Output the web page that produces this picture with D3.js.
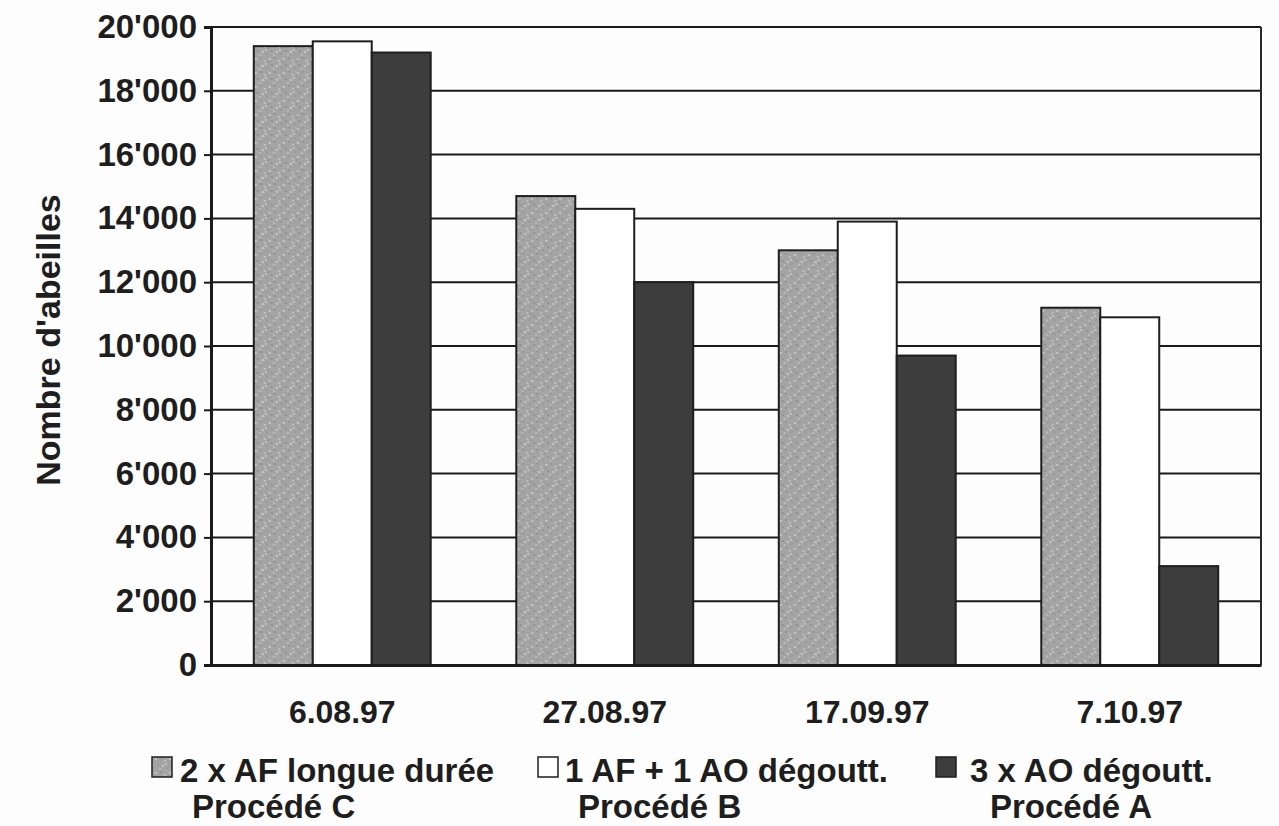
<!DOCTYPE html>
<html>
<head>
<meta charset="utf-8">
<script src="https://cdn.jsdelivr.net/npm/d3@7"></script>
<style>
  html, body { margin: 0; padding: 0; background: #fdfdfd; }
  svg { display: block; }
  text { font-family: "Liberation Sans", Arial, sans-serif; font-weight: bold; fill: #1e1e1e; }
</style>
</head>
<body>
<svg id="chart" width="1279" height="826"></svg>
<script>
// Sampling dates (x categories)
const categories = ["6.08.97", "27.08.97", "17.09.97", "7.10.97"];

// Bee counts per treatment
const procedeC = [19400, 14700, 13000, 11200]; // 2 x AF longue durée
const procedeB = [19550, 14300, 13900, 10900]; // 1 AF + 1 AO dégoutt.
const procedeA = [19200, 12000, 9700, 3100];   // 3 x AO dégoutt.

const seriesKeys = ["C", "B", "A"];
const seriesLabels = [
  ["2 x AF longue durée", "Procédé C"],
  ["1 AF + 1 AO dégoutt.", "Procédé B"],
  ["3 x AO dégoutt.", "Procédé A"]
];

const yTickValues = [0, 2000, 4000, 6000, 8000, 10000, 12000, 14000, 16000, 18000, 20000];
const yTitle = "Nombre d'abeilles";

const rows = categories.map((c, i) => ({ cat: c, C: procedeC[i], B: procedeB[i], A: procedeA[i] }));

const svg = d3.select("#chart");
const plot = { left: 211, right: 1261, top: 27, bottom: 665 };

const x0 = d3.scaleBand().domain(categories)
  .range([plot.left, plot.right]).paddingInner(0.326).paddingOuter(0.163);
const x1 = d3.scaleBand().domain(seriesKeys).range([0, x0.bandwidth()]);
const y = d3.scaleLinear().domain([0, 20000]).range([plot.bottom, plot.top]);

// Speckled grey fill for the first series
const defs = svg.append("defs");
const pat = defs.append("pattern").attr("id", "speckle")
  .attr("patternUnits", "userSpaceOnUse").attr("width", 14).attr("height", 14);
pat.append("rect").attr("width", 14).attr("height", 14).attr("fill", "#a4a4a4");
[[1,2,"#c4c4c4"],[6,1,"#959595"],[10,4,"#bdbdbd"],[3,8,"#929292"],[8,9,"#c8c8c8"],
 [12,11,"#999999"],[5,12,"#b8b8b8"],[0,5,"#9a9a9a"],[11,7,"#c0c0c0"]].forEach(([px, py, col]) => {
  pat.append("rect").attr("x", px).attr("y", py).attr("width", 2).attr("height", 2).attr("fill", col);
});

const fills = { C: "url(#speckle)", B: "#ffffff", A: "#3d3d3d" };

// Horizontal gridlines
svg.append("g").selectAll("line").data(yTickValues.filter(v => v > 0)).join("line")
  .attr("x1", plot.left).attr("x2", plot.right)
  .attr("y1", d => y(d)).attr("y2", d => y(d))
  .attr("stroke", "#1a1a1a").attr("stroke-width", 2);

// Right border
svg.append("line").attr("x1", plot.right).attr("x2", plot.right)
  .attr("y1", plot.top).attr("y2", plot.bottom)
  .attr("stroke", "#2a2a2a").attr("stroke-width", 2);

// Bars
svg.append("g").selectAll("g").data(rows).join("g")
  .attr("transform", d => `translate(${x0(d.cat)},0)`)
  .selectAll("rect").data(d => seriesKeys.map(k => ({ key: k, value: d[k] }))).join("rect")
  .attr("x", d => x1(d.key))
  .attr("y", d => y(d.value))
  .attr("width", x1.bandwidth())
  .attr("height", d => y(0) - y(d.value))
  .attr("fill", d => fills[d.key])
  .attr("stroke", "#1e1e1e").attr("stroke-width", 2);

// Y axis
const yAxis = svg.append("g").attr("transform", `translate(${plot.left},0)`)
  .call(d3.axisLeft(y).tickValues(yTickValues).tickSize(7).tickPadding(7)
    .tickFormat(d => d3.format(",")(d).replace(/,/g, "'")));
yAxis.select(".domain").attr("stroke", "#1a1a1a").attr("stroke-width", 3);
yAxis.selectAll(".tick line").attr("stroke", "#1a1a1a").attr("stroke-width", 2);
yAxis.selectAll(".tick text").attr("font-size", 33).attr("fill", "#1e1e1e")
  .attr("font-family", "Liberation Sans, Arial, sans-serif").attr("font-weight", "bold");

// X axis
const xAxis = svg.append("g").attr("transform", `translate(0,${plot.bottom})`)
  .call(d3.axisBottom(x0).tickSize(0).tickPadding(35));
xAxis.select(".domain").attr("stroke", "#1a1a1a").attr("stroke-width", 3);
xAxis.selectAll(".tick text").attr("font-size", 32).attr("fill", "#1e1e1e")
  .attr("font-family", "Liberation Sans, Arial, sans-serif").attr("font-weight", "bold");

// Y axis title
svg.append("text")
  .attr("transform", "translate(60,340) rotate(-90)")
  .attr("text-anchor", "middle")
  .attr("font-size", 34)
  .text(yTitle);

// Legend
const legendPos = [
  { sx: 152, tx: 180, t2x: 192 },
  { sx: 538, tx: 565, t2x: 578 },
  { sx: 936, tx: 970, t2x: 990 }
];
const legend = svg.append("g");
seriesKeys.forEach((k, i) => {
  const p = legendPos[i];
  legend.append("rect").attr("x", p.sx).attr("y", 757).attr("width", 20).attr("height", 20)
    .attr("fill", fills[k]).attr("stroke", "#1e1e1e").attr("stroke-width", 1.5);
  legend.append("text").attr("x", p.tx).attr("y", 782).attr("font-size", 33).text(seriesLabels[i][0]);
  legend.append("text").attr("x", p.t2x).attr("y", 818).attr("font-size", 33).text(seriesLabels[i][1]);
});
</script>
</body>
</html>
